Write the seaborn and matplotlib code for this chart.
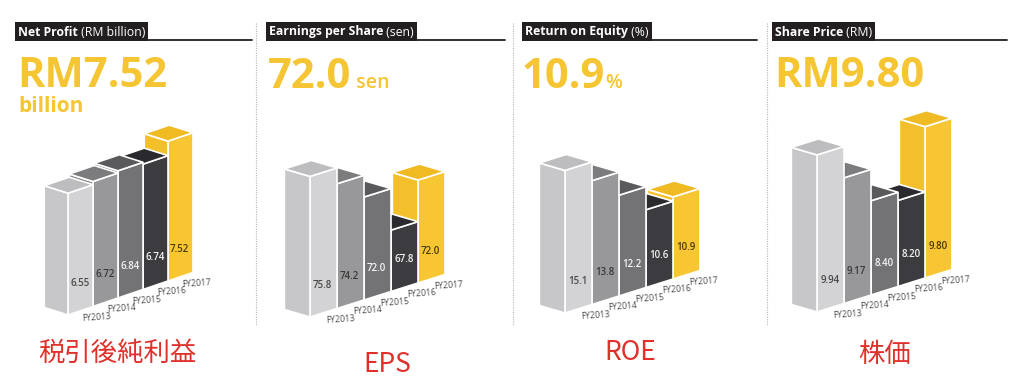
import matplotlib
matplotlib.use("Agg")
import matplotlib.pyplot as plt
from matplotlib.patches import Polygon, Rectangle
from matplotlib.lines import Line2D
from matplotlib.transforms import Affine2D
import numpy as np
import pandas as pd
import seaborn as sns

# ---- data ----
years = ["FY2013", "FY2014", "FY2015", "FY2016", "FY2017"]
net_profit = [6.55, 6.72, 6.84, 6.74, 7.52]
eps = [75.8, 74.2, 72.0, 67.8, 72.0]
roe = [15.1, 13.8, 12.2, 10.6, 10.9]
share_price = [9.94, 9.17, 8.40, 8.20, 9.80]

headers = [("Net Profit", " (RM billion)"), ("Earnings per Share", " (sen)"),
           ("Return on Equity", " (%)"), ("Share Price", " (RM)")]
jp_labels = ["税引後純利益", "EPS", "ROE", "株価"]

# ---- style ----
sns.set_style("white")
plt.rcParams["font.family"] = ["Open Sans", "Noto Sans CJK JP", "DejaVu Sans"]

right_faces = ["#d3d3d5", "#98989a", "#737376", "#3c3c40", "#f8c633"]
left_faces = ["#c7c7c9", "#8a8a8c", "#666669", "#333337", "#f3c02b"]
top_faces = ["#bdbdbf", "#7c7c7e", "#5a5a5d", "#2a2a2e", "#efba22"]
label_colors = ["#4a4a4a", "#3a3a3a", "#f2f2f2", "#f2f2f2", "#4a3b00"]
yellow = "#f5c533"
red = "#e0302a"

W, H = 1024, 383
fig = plt.figure(figsize=(W / 100, H / 100), dpi=100)
fig.patch.set_facecolor("white")
renderer = fig.canvas.get_renderer()

RISE = 8.5   # px the baseline rises per bar
DROP = 7.5   # px the left face rises over its width
D = 0.95     # left face width in bar units


def fx(x):
    return x / W


def fy(y):
    return 1 - y / H


def run_text(x, y, parts):
    """Place text pieces one after another on a common baseline (pixel coords)."""
    start = x
    for s, kw in parts:
        t = fig.text(fx(x), fy(y), s, va="baseline", ha="left", **kw)
        x += t.get_window_extent(renderer).width
    return start, x


def draw_bars(values, fmt, corner0, w, base_px, floor, k):
    top_px, bot_px = 100, 335
    left = corner0 - 1.1 * w
    ax = fig.add_axes([fx(left), fy(bot_px), 6.3 * w / W, (bot_px - top_px) / H])
    df = pd.DataFrame({"year": years, "value": values})
    sns.barplot(data=df, x="year", y="value", hue="year", palette=right_faces,
                width=1, saturation=1, legend=False, ax=ax,
                edgecolor="white", linewidth=1.2)
    ax.set_xlim(-1.6, 4.7)
    lo = floor - (bot_px - base_px) / k
    ax.set_ylim(lo, lo + (bot_px - top_px) / k)
    ax.set_axis_off()

    R = RISE / k
    E = (DROP + RISE * D) / k
    skew = Affine2D(np.array([[1, 0, 0], [R, 1, 0.5 * R], [0, 0, 1]])) + ax.transData

    for i, p in enumerate(ax.patches[:len(values)]):
        v = p.get_height()
        x0 = p.get_x()
        z = 10 - i
        p.set_y(floor)
        p.set_height(v - floor)
        p.set_transform(skew)
        p.set_zorder(z)
        p.set_clip_on(False)
        left_face = [(x0, floor), (x0, v), (x0 - D, v + E), (x0 - D, floor + E)]
        top_face = [(x0, v), (x0 + 1, v), (x0 + 1 - D, v + E), (x0 - D, v + E)]
        for pts, col in [(left_face, left_faces[i]), (top_face, top_faces[i])]:
            ax.add_patch(Polygon(pts, closed=True, facecolor=col, edgecolor="white",
                                 linewidth=1.2, transform=skew, zorder=z, clip_on=False))
        ax.text(x0 + 0.47, floor + 28 / k, fmt.format(v), transform=skew,
                ha="center", va="center", fontsize=7, fontweight="semibold",
                color=label_colors[i], zorder=20)
        ax.text(x0 + 1.12, floor - 12 / k, years[i], transform=skew, rotation=4,
                rotation_mode="anchor", ha="center", va="center", fontsize=6.2,
                color="#4d4d4d", zorder=20)
    return ax


def header(x, parts, line_end):
    bold, reg = parts
    s, e = run_text(x, 35.5, [(bold, dict(fontsize=8.8, fontweight="bold", color="white")),
                              (reg, dict(fontsize=8.8, color="white"))])
    fig.add_artist(Rectangle((fx(s - 3), fy(40.5)), (e - s + 6) / W, 18.5 / H,
                             transform=fig.transFigure, facecolor="#231f20",
                             edgecolor="none", zorder=0))
    fig.add_artist(Line2D([fx(e + 3), fx(line_end)], [fy(39.5), fy(39.5)],
                          transform=fig.transFigure, color="#231f20", lw=1.3))


big = dict(fontsize=30, fontweight="bold", color=yellow)

# panel 1: net profit
header(18, headers[0], 252)
run_text(17, 87, [(f"RM{net_profit[-1]:.2f}", big)])
run_text(18, 112, [("billion", dict(fontsize=15, fontweight="bold", color=yellow))])
draw_bars(net_profit, "{:.2f}", 68, 25, 315, 0.0, 18.6)

# panel 2: EPS
header(269, headers[1], 505)
run_text(268, 88, [(f"{eps[-1]:.1f}", big),
                   (" sen", dict(fontsize=14, fontweight="semibold", color=yellow))])
draw_bars(eps, "{:.1f}", 310, 27, 317, 61.6, 9.9)

# panel 3: ROE
header(525, headers[2], 757)
run_text(522, 88, [(f"{roe[-1]:.1f}", big),
                   ("%", dict(fontsize=14, fontweight="semibold", color=yellow))])
draw_bars(roe, "{:.1f}", 565, 27, 313, 5.2, 14.4)

# panel 4: share price
header(775, headers[3], 1007)
run_text(774, 87, [(f"RM{share_price[-1]:.2f}", big)])
draw_bars(share_price, "{:.2f}", 817, 27, 312, 6.09, 40.8)

# dotted separators
for xs in [256, 513, 767]:
    fig.add_artist(Line2D([fx(xs), fx(xs)], [fy(23), fy(325)], transform=fig.transFigure,
                          color="#b5b5b5", lw=0.8, linestyle=(0, (1, 1.2))))

# red captions
for (cx, cy), lab in zip([(117, 353), (387, 365), (630, 353), (885, 354)], jp_labels):
    fig.text(fx(cx), fy(cy), lab, ha="center", va="center", fontsize=19,
             color=red, family=["Noto Sans CJK JP", "DejaVu Sans"])

fig.savefig("out.png", dpi=100, facecolor="white")
